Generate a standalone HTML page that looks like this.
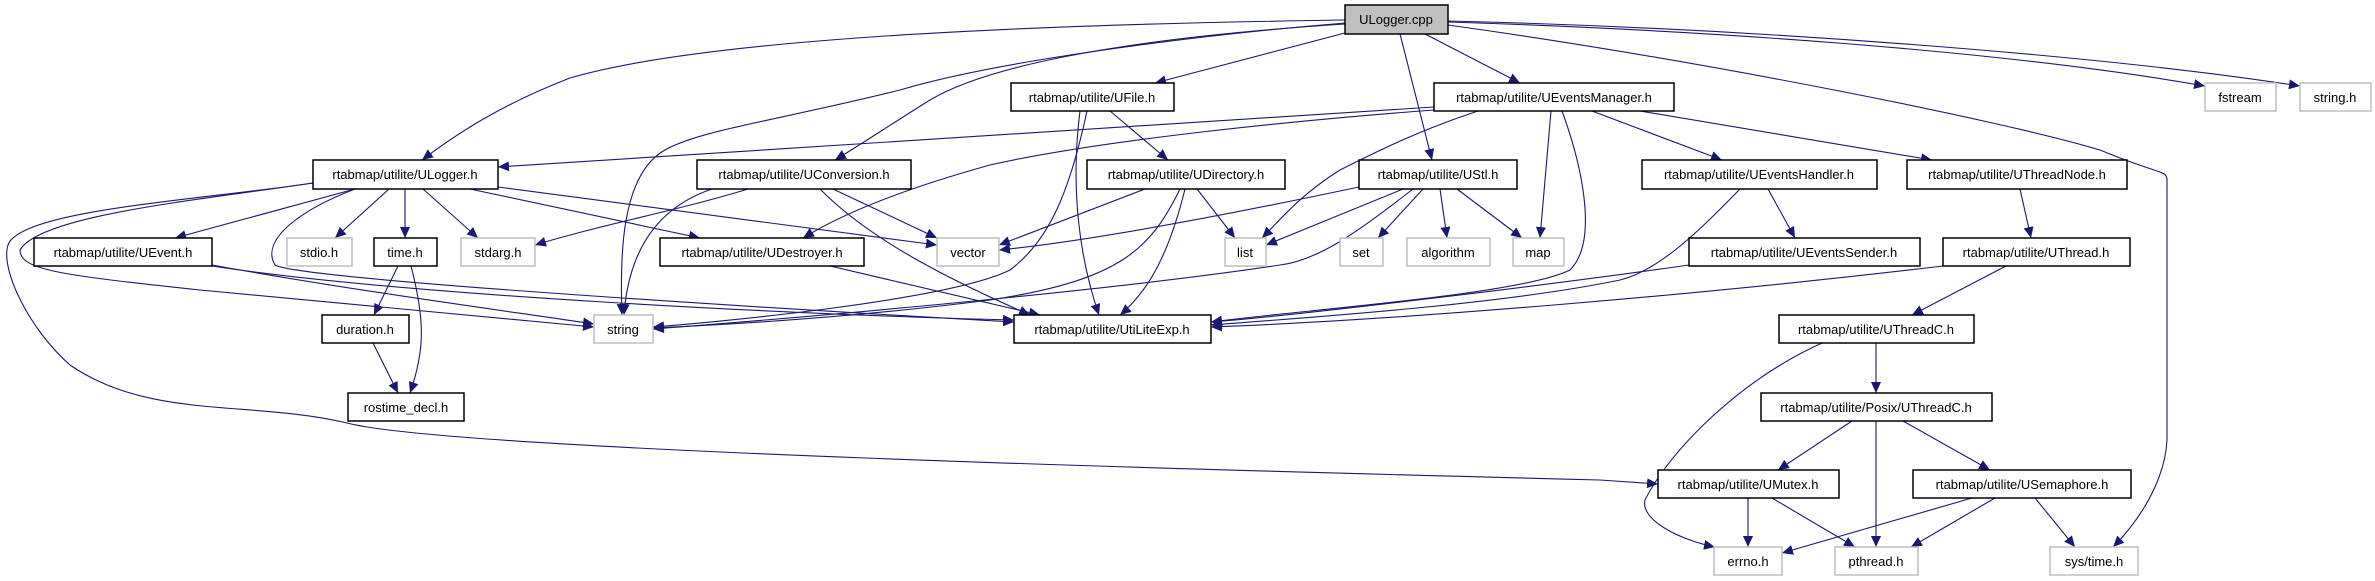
<!DOCTYPE html>
<html><head><meta charset="utf-8"><style>
html,body{margin:0;padding:0;background:#fff;}
svg{display:block;}
text{font-family:"Liberation Sans",sans-serif;font-size:13px;fill:#000;}
.n{fill:#fff;stroke:#000;stroke-width:1.5;}
.g{fill:#fff;stroke:#bfbfbf;stroke-width:1.5;}
.e{fill:none;stroke:#191970;stroke-width:1.1;}
</style></head><body>
<svg width="2375" height="581" viewBox="0 0 2375 581" xmlns="http://www.w3.org/2000/svg">
<defs><marker id="a" markerUnits="userSpaceOnUse" markerWidth="12" markerHeight="10" refX="11" refY="5" orient="auto"><path d="M0,0 L11,5 L0,10 Z" fill="#191970"/></marker></defs>
<g marker-end="url(#a)">
<path class="e" d="M1345,20 C1000,25 700,40 570,78 C500,105 455,135 422,160"/>
<path class="e" d="M1345,33 L1155,83"/>
<path class="e" d="M1345,24 C1100,40 980,70 930,100 C890,125 860,145 835,160"/>
<path class="e" d="M1345,23 C1200,35 1000,60 900,90 C780,120 700,130 665,150 C620,175 620,260 622,315"/>
<path class="e" d="M1400,34 L1432,160"/>
<path class="e" d="M1425,34 L1520,83"/>
<path class="e" d="M1448,22 C1700,30 2000,50 2205,86"/>
<path class="e" d="M1448,21 C1750,28 2100,55 2300,86"/>
<path class="e" d="M1448,25 C1700,60 2000,120 2100,150 C2160,175 2167,170 2167,180 L2167,440 C2165,480 2140,520 2113,547"/>
<path class="e" d="M1434,107 L498,167"/>
<path class="e" d="M1434,110 C1300,120 1100,140 990,165 C900,190 840,215 803,238"/>
<path class="e" d="M1478,111 C1420,130 1380,150 1340,170 C1300,195 1280,220 1262,238"/>
<path class="e" d="M1551,111 L1540,238"/>
<path class="e" d="M1562,111 C1580,160 1600,240 1570,270 C1520,295 1300,310 1211,322"/>
<path class="e" d="M1592,111 L1722,160"/>
<path class="e" d="M1640,111 L1932,160"/>
<path class="e" d="M1110,111 L1168,160"/>
<path class="e" d="M1087,111 C1070,190 1050,240 1010,270 C950,300 720,322 653,327"/>
<path class="e" d="M1080,111 C1070,190 1080,260 1099,315"/>
<path class="e" d="M748,189 C680,210 600,225 535,245"/>
<path class="e" d="M712,189 C650,210 628,260 624,315"/>
<path class="e" d="M833,189 L937,238"/>
<path class="e" d="M820,189 C870,240 950,280 1030,315"/>
<path class="e" d="M1145,189 L999,245"/>
<path class="e" d="M1197,189 L1235,238"/>
<path class="e" d="M1180,189 C1150,250 1120,280 990,300 C850,318 720,325 653,328"/>
<path class="e" d="M1185,189 C1170,250 1150,290 1120,315"/>
<path class="e" d="M1359,187 C1250,210 1100,240 999,250"/>
<path class="e" d="M1403,189 L1266,245"/>
<path class="e" d="M1423,189 L1378,238"/>
<path class="e" d="M1440,189 L1447,238"/>
<path class="e" d="M1457,189 L1522,238"/>
<path class="e" d="M1413,189 C1360,230 1320,260 1280,265 C1150,285 900,310 653,329"/>
<path class="e" d="M355,189 L175,238"/>
<path class="e" d="M389,189 L335,238"/>
<path class="e" d="M405,189 L405,238"/>
<path class="e" d="M423,189 L478,238"/>
<path class="e" d="M470,189 L700,238"/>
<path class="e" d="M498,187 L937,245"/>
<path class="e" d="M313,183 C200,200 40,215 20,250 C20,270 60,275 200,290 C400,310 500,318 594,327"/>
<path class="e" d="M355,189 C300,210 260,240 275,265 C300,280 800,310 1014,322"/>
<path class="e" d="M313,183 C200,200 20,210 8,245 C0,270 30,330 70,365 C150,420 250,400 347,423 C450,450 1200,470 1600,480 L1658,484"/>
<path class="e" d="M212,265 C350,290 500,310 594,324"/>
<path class="e" d="M212,266 C400,295 800,315 1014,320"/>
<path class="e" d="M398,266 L374,315"/>
<path class="e" d="M411,266 C425,320 425,350 410,393"/>
<path class="e" d="M373,343 L398,393"/>
<path class="e" d="M830,266 L1040,315"/>
<path class="e" d="M1768,189 L1795,238"/>
<path class="e" d="M1740,189 C1700,230 1660,270 1620,280 C1500,305 1300,318 1211,325"/>
<path class="e" d="M1689,265 C1550,285 1300,315 1211,322"/>
<path class="e" d="M2020,189 L2031,238"/>
<path class="e" d="M1943,266 C1700,295 1400,320 1211,327"/>
<path class="e" d="M2006,266 L1912,315"/>
<path class="e" d="M1876,343 L1876,393"/>
<path class="e" d="M1822,343 C1740,380 1670,450 1645,500 C1640,520 1680,540 1715,547"/>
<path class="e" d="M1852,421 L1778,470"/>
<path class="e" d="M1876,421 L1876,547"/>
<path class="e" d="M1903,421 L1990,470"/>
<path class="e" d="M1748,498 L1748,547"/>
<path class="e" d="M1772,498 L1855,547"/>
<path class="e" d="M1972,498 L1782,553"/>
<path class="e" d="M1995,498 L1911,547"/>
<path class="e" d="M2035,498 L2075,547"/>
</g>
<rect x="1345" y="5" width="103" height="29" fill="#bfbfbf" stroke="#000" stroke-width="1.5"/><text x="1396" y="24" text-anchor="middle">ULogger.cpp</text>
<rect class="n" x="1011" y="83" width="163" height="28"/><text x="1092" y="102" text-anchor="middle">rtabmap/utilite/UFile.h</text>
<rect class="n" x="1434" y="83" width="240" height="28"/><text x="1554" y="102" text-anchor="middle">rtabmap/utilite/UEventsManager.h</text>
<rect class="g" x="2205" y="83" width="71" height="28"/><text x="2240" y="102" text-anchor="middle">fstream</text>
<rect class="g" x="2300" y="83" width="71" height="28"/><text x="2335" y="102" text-anchor="middle">string.h</text>
<rect class="n" x="313" y="160" width="185" height="29"/><text x="405" y="179" text-anchor="middle">rtabmap/utilite/ULogger.h</text>
<rect class="n" x="697" y="160" width="214" height="29"/><text x="804" y="179" text-anchor="middle">rtabmap/utilite/UConversion.h</text>
<rect class="n" x="1087" y="160" width="198" height="29"/><text x="1186" y="179" text-anchor="middle">rtabmap/utilite/UDirectory.h</text>
<rect class="n" x="1359" y="160" width="158" height="29"/><text x="1438" y="179" text-anchor="middle">rtabmap/utilite/UStl.h</text>
<rect class="n" x="1642" y="160" width="235" height="29"/><text x="1759" y="179" text-anchor="middle">rtabmap/utilite/UEventsHandler.h</text>
<rect class="n" x="1907" y="160" width="220" height="29"/><text x="2017" y="179" text-anchor="middle">rtabmap/utilite/UThreadNode.h</text>
<rect class="n" x="34" y="238" width="178" height="28"/><text x="123" y="257" text-anchor="middle">rtabmap/utilite/UEvent.h</text>
<rect class="g" x="287" y="238" width="65" height="28"/><text x="319" y="257" text-anchor="middle">stdio.h</text>
<rect class="n" x="374" y="238" width="63" height="28"/><text x="405" y="257" text-anchor="middle">time.h</text>
<rect class="g" x="461" y="238" width="74" height="28"/><text x="498" y="257" text-anchor="middle">stdarg.h</text>
<rect class="n" x="660" y="238" width="204" height="28"/><text x="762" y="257" text-anchor="middle">rtabmap/utilite/UDestroyer.h</text>
<rect class="g" x="937" y="238" width="62" height="28"/><text x="968" y="257" text-anchor="middle">vector</text>
<rect class="g" x="1225" y="238" width="41" height="28"/><text x="1245" y="257" text-anchor="middle">list</text>
<rect class="g" x="1340" y="238" width="43" height="28"/><text x="1361" y="257" text-anchor="middle">set</text>
<rect class="g" x="1407" y="238" width="83" height="28"/><text x="1448" y="257" text-anchor="middle">algorithm</text>
<rect class="g" x="1513" y="238" width="51" height="28"/><text x="1538" y="257" text-anchor="middle">map</text>
<rect class="n" x="1689" y="238" width="231" height="28"/><text x="1804" y="257" text-anchor="middle">rtabmap/utilite/UEventsSender.h</text>
<rect class="n" x="1943" y="238" width="187" height="28"/><text x="2036" y="257" text-anchor="middle">rtabmap/utilite/UThread.h</text>
<rect class="n" x="322" y="315" width="87" height="28"/><text x="365" y="334" text-anchor="middle">duration.h</text>
<rect class="g" x="594" y="315" width="59" height="28"/><text x="623" y="334" text-anchor="middle">string</text>
<rect class="n" x="1014" y="315" width="197" height="28"/><text x="1112" y="334" text-anchor="middle">rtabmap/utilite/UtiLiteExp.h</text>
<rect class="n" x="1779" y="315" width="195" height="28"/><text x="1876" y="334" text-anchor="middle">rtabmap/utilite/UThreadC.h</text>
<rect class="n" x="348" y="393" width="116" height="28"/><text x="406" y="412" text-anchor="middle">rostime_decl.h</text>
<rect class="n" x="1761" y="393" width="231" height="28"/><text x="1876" y="412" text-anchor="middle">rtabmap/utilite/Posix/UThreadC.h</text>
<rect class="n" x="1658" y="470" width="181" height="28"/><text x="1748" y="489" text-anchor="middle">rtabmap/utilite/UMutex.h</text>
<rect class="n" x="1913" y="470" width="218" height="28"/><text x="2022" y="489" text-anchor="middle">rtabmap/utilite/USemaphore.h</text>
<rect class="g" x="1714" y="547" width="68" height="28"/><text x="1748" y="566" text-anchor="middle">errno.h</text>
<rect class="g" x="1835" y="547" width="83" height="28"/><text x="1876" y="566" text-anchor="middle">pthread.h</text>
<rect class="g" x="2050" y="547" width="88" height="28"/><text x="2094" y="566" text-anchor="middle">sys/time.h</text>
</svg>
</body></html>
